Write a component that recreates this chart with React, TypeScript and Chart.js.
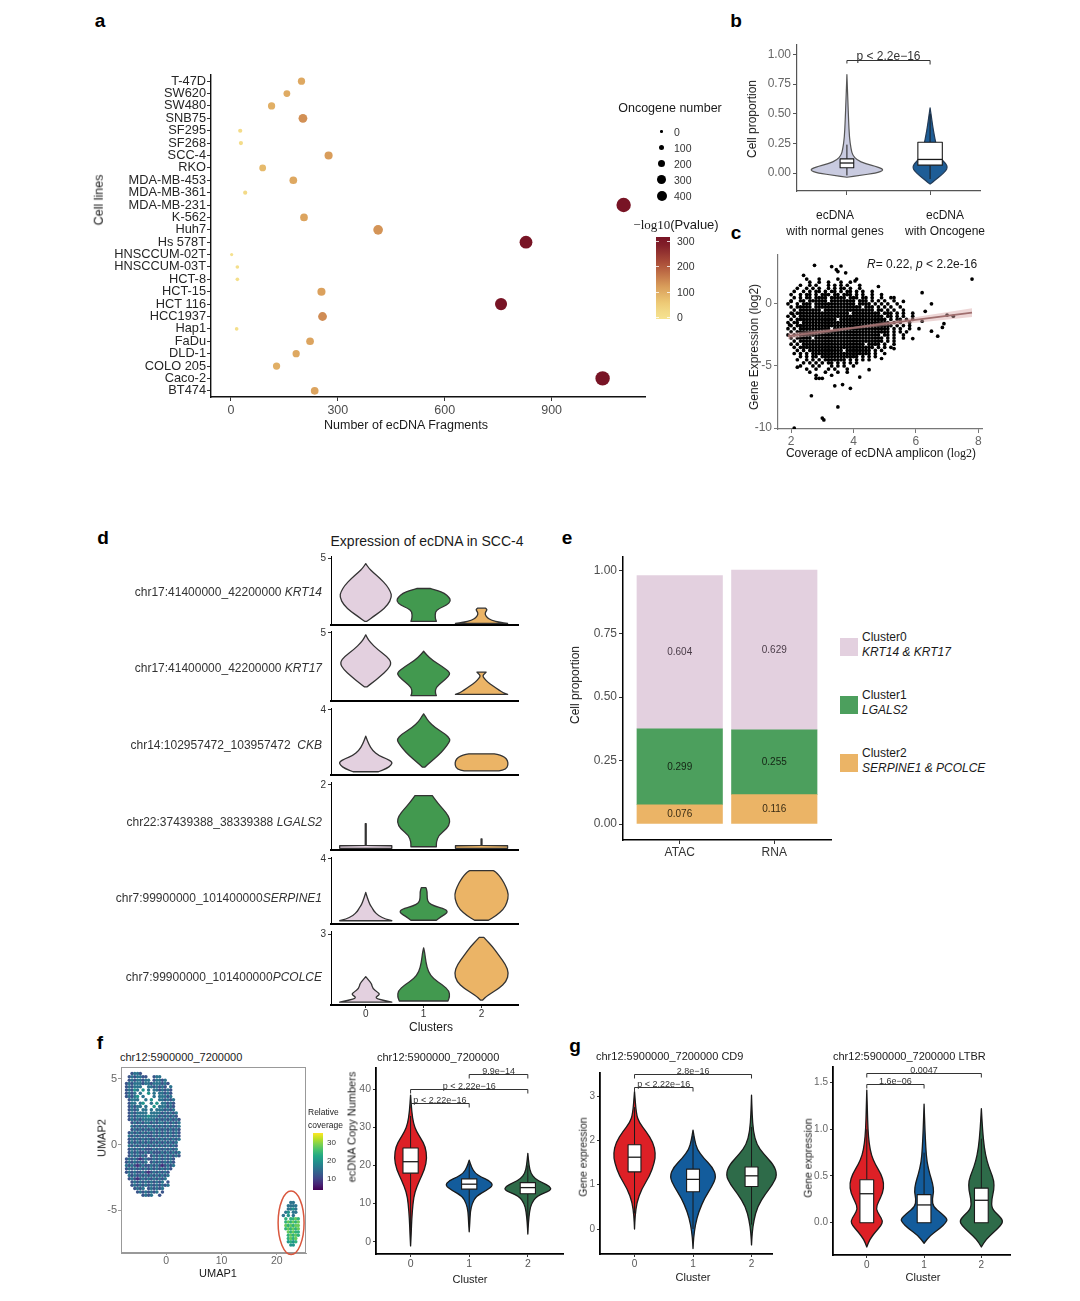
import React, { useEffect, useRef } from "react";
import { Chart, registerables } from "chart.js";

Chart.register(...registerables);

const SANS = "'Liberation Sans', Arial, Helvetica, sans-serif";
const SERIF = "'Liberation Serif', 'Times New Roman', serif";
Chart.defaults.font.family = SANS;

// ---------------- panel a ----------------
const cellLines = ["T-47D", "SW620", "SW480", "SNB75", "SF295", "SF268", "SCC-4", "RKO", "MDA-MB-453", "MDA-MB-361", "MDA-MB-231", "K-562", "Huh7", "Hs 578T", "HNSCCUM-02T", "HNSCCUM-03T", "HCT-8", "HCT-15", "HCT 116", "HCC1937", "Hap1", "FaDu", "DLD-1", "COLO 205", "Caco-2", "BT474"];
const ecdnaFragments = [198, 157, 114, 202, 26, 28, 274, 89, 175, 40, 1102, 205, 413, 828, 2, 18, 18, 254, 758, 257, 16, 222, 183, 128, 1043, 235];
const oncogeneNumber = [130, 110, 130, 205, 23, 23, 170, 110, 150, 23, 600, 150, 254, 470, 0, 10, 10, 170, 415, 205, 10, 150, 130, 130, 600, 150];
const negLog10P = [105, 100, 95, 135, 15, 15, 120, 80, 105, 20, 300, 110, 130, 300, 5, 10, 10, 115, 300, 140, 10, 110, 105, 95, 300, 110];
const fragmentTicks = [0, 300, 600, 900];
const oncoLegendValues = [0, 100, 200, 300, 400];
const pLegendValues = [300, 200, 100, 0];
const pColorStops: [number, string][] = [[0, "#f6e390"], [60, "#ecc874"], [120, "#d99d5b"], [200, "#b3583d"], [300, "#781425"]];

// ---------------- panel b ----------------
const bCategories = [["ecDNA", "with normal genes"], ["ecDNA", "with Oncogene"]];
const bPropTicks = [0, 0.25, 0.5, 0.75, 1];
const bNormalProfile: [number, number][] = [[-0.035, 0], [-0.02, 0.15], [0, 0.35], [0.025, 0.45], [0.05, 0.38], [0.08, 0.22], [0.11, 0.12], [0.15, 0.07], [0.2, 0.05], [0.3, 0.03], [0.45, 0.02], [0.6, 0.012], [0.83, 0]];
const bOncoProfile: [number, number][] = [[-0.093, 0], [-0.06, 0.06], [-0.02, 0.13], [0.02, 0.19], [0.05, 0.21], [0.08, 0.19], [0.12, 0.13], [0.18, 0.095], [0.25, 0.07], [0.32, 0.05], [0.4, 0.03], [0.48, 0.015], [0.55, 0]];
const bNormalBox = [-0.02, 0.045, 0.085, 0.12, 0.24];
const bOncoBox = [-0.05, 0.067, 0.115, 0.26, 0.5];

// ---------------- panel c ----------------
const cCoverageTicks = [2, 4, 6, 8];
const cExprTicks = [-10, -5, 0];
// digitised dense core: column i -> x = 1.9 + 0.1*i, row r -> y = 2.0 - 0.25*r
const cDenseRows = [
  "......#...#.....#.....#",
  ".......#..#..#...#..#",
  "....#..#.#...#.#.#.#...#",
  "...#..#.#.#..#.#.##.#..#",
  "..#..#.#.##.#.##.#.##.#.#..#",
  ".#..#.##.#.###.##.###.#.#..#..#",
  "..#.#.##.####.#####.###.##.#..#...#",
  ".#..##.######.########.###.#.#.#..#",
  "#..#.###.#############.####.#.#.#..#",
  ".#.#####.###############.###.#.#.#..#",
  "..#.#######.################.##.#.#..#",
  ".#.#################.#########.###.#.#..#",
  "#.#.###########################.##.#.#..#",
  ".#.#############.###############.#.##.#.#",
  "#.##.############################.#.#..#",
  ".#.###############################.#.#.#",
  "#.#.##########.##################.#.#..#",
  ".#.##############################.#.#.#",
  "#.#.##########################.##.#..#",
  ".#.#####.######################.#.#..#",
  "..#.###########################.#.#",
  ".#.#.####################.####.#..#",
  "..#.########################.#.#.#",
  "...#.#.###########.########.#.#",
  "..#.#.#.###################.#..#",
  "....#.#.##.############.#.#.#",
  "...#..#.#.#.#######.#.#.#.#",
  ".....#.#.#.#.##.#.#.#.#",
  "....#...#.#...#.#.#..#",
  "......#..#...#.#...#",
  ".......#....#...#..#",
  ".........#....#",
  "...........#",
];
const cOutliers: [number, number][] = [[7.8, 2.0], [2.75, 3.1], [3.3, 3.0], [3.6, 3.05], [3.45, 2.75], [3.5, 2.6], [3.75, 2.5], [2.4, 2.3], [4.05, 1.85], [4.8, 1.4], [5.2, 0.5], [5.6, 0.2], [6.2, 0.9], [6.5, 0.0], [6.9, -1.6], [6.85, -1.9], [6.5, -2.2], [6.7, -2.6], [7.2, -1.0], [7.0, -0.9], [6.2, -1.4], [5.9, -2.8], [6.1, -2.0], [6.3, -0.6], [2.65, -7.4], [3.4, -6.6], [3.65, -6.5], [3.9, -6.8], [3.0, -9.2], [3.05, -9.35], [3.5, -8.3], [2.8, -6.0], [2.9, -6.0], [2.1, -10.0], [4.2, -5.9], [4.5, -5.3], [4.9, -4.4], [5.3, -3.6], [2.0, 0.2], [2.05, -0.8], [1.95, -1.7], [2.2, -5.1]];
const cFitLine: [number, number][] = [[1.9, -2.6], [7.8, -0.7]];
const cBandUpper: [number, number][] = [[1.9, -2.35], [4.0, -1.85], [7.8, -0.35]];
const cBandLower: [number, number][] = [[1.9, -2.85], [4.0, -2.05], [7.8, -1.05]];

// ---------------- panel d ----------------
const dRegions = ["chr17:41400000_42200000 ", "chr17:41400000_42200000 ", "chr14:102957472_103957472  ", "chr22:37439388_38339388 ", "chr7:99900000_101400000", "chr7:99900000_101400000"];
const dGenes = ["KRT14", "KRT17", "CKB", "LGALS2", "SERPINE1", "PCOLCE"];
const dTopTick = [5, 5, 4, 2, 4, 3];
const dYMax = [5.2, 5.14, 4.11, 2.09, 4.11, 3.13];
const dClusterTicks = [0, 1, 2];
const dKRT14: [number, number][][] = [
  [[0.28, 0.02], [0.6, 0.12], [1.0, 0.25], [1.5, 0.38], [2.1, 0.45], [2.5, 0.43], [3.0, 0.36], [3.5, 0.25], [4.0, 0.12], [4.3, 0.05], [4.63, 0]],
  [[0.28, 0.22], [0.5, 0.2], [1.0, 0.2], [1.25, 0.27], [1.5, 0.4], [1.8, 0.47], [2.1, 0.44], [2.4, 0.36], [2.6, 0.24], [2.75, 0.12]],
  [[0.12, 0.45], [0.2, 0.32], [0.35, 0.17], [0.55, 0.1], [0.8, 0.06], [1.0, 0.07], [1.15, 0.1], [1.27, 0.07]],
];
const dKRT17: [number, number][][] = [
  [[1.03, 0.02], [1.3, 0.1], [1.8, 0.25], [2.3, 0.38], [2.8, 0.45], [3.3, 0.36], [3.8, 0.2], [4.3, 0.08], [4.6, 0.03], [4.86, 0]],
  [[0.4, 0.22], [0.6, 0.2], [1.0, 0.21], [1.4, 0.32], [1.8, 0.43], [2.1, 0.46], [2.5, 0.33], [3.0, 0.15], [3.4, 0.05], [3.65, 0]],
  [[0.48, 0.45], [0.6, 0.38], [0.8, 0.3], [1.1, 0.2], [1.4, 0.1], [1.7, 0.04], [1.85, 0.02], [2.0, 0.05], [2.12, 0.08]],
];
const dCKB: [number, number][][] = [
  [[0.2, 0.22], [0.4, 0.36], [0.6, 0.44], [0.8, 0.46], [1.0, 0.36], [1.2, 0.22], [1.5, 0.12], [1.9, 0.05], [2.2, 0.02], [2.38, 0]],
  [[0.48, 0.02], [0.8, 0.12], [1.2, 0.25], [1.6, 0.36], [2.0, 0.44], [2.2, 0.46], [2.5, 0.38], [2.9, 0.2], [3.3, 0.08], [3.6, 0.03], [3.75, 0]],
  [[0.25, 0.3], [0.35, 0.42], [0.6, 0.46], [0.9, 0.45], [1.1, 0.4], [1.22, 0.32], [1.3, 0.22]],
];
const dLGALS2: [number, number][][] = [
  [[0.05, 0.45], [0.13, 0.45], [0.14, 0.008], [0.81, 0.008]],
  [[0.1, 0.22], [0.25, 0.22], [0.45, 0.26], [0.65, 0.4], [0.85, 0.46], [1.05, 0.43], [1.25, 0.34], [1.45, 0.24], [1.6, 0.18], [1.67, 0.15]],
  [[0.05, 0.45], [0.13, 0.45], [0.14, 0.008], [0.34, 0.008]],
];
const dSERPINE1: [number, number][][] = [
  [[0.2, 0.45], [0.3, 0.35], [0.5, 0.22], [0.8, 0.14], [1.0, 0.11], [1.2, 0.07], [1.5, 0.04], [1.7, 0.02], [1.94, 0]],
  [[0.23, 0.22], [0.45, 0.3], [0.7, 0.42], [0.9, 0.38], [1.1, 0.18], [1.3, 0.08], [1.6, 0.06], [2.0, 0.06], [2.23, 0.04]],
  [[0.23, 0.12], [0.5, 0.25], [0.9, 0.38], [1.3, 0.44], [1.8, 0.47], [2.3, 0.42], [2.7, 0.36], [3.0, 0.3], [3.2, 0.24], [3.28, 0.2]],
];
const dPCOLCE: [number, number][][] = [
  [[0.12, 0.45], [0.2, 0.3], [0.3, 0.15], [0.45, 0.25], [0.55, 0.2], [0.7, 0.12], [0.9, 0.1], [1.05, 0.05], [1.2, 0]],
  [[0.17, 0.42], [0.35, 0.45], [0.6, 0.44], [0.85, 0.33], [1.1, 0.17], [1.4, 0.08], [1.8, 0.04], [2.2, 0.02], [2.42, 0]],
  [[0.21, 0.02], [0.4, 0.1], [0.7, 0.3], [1.0, 0.43], [1.35, 0.47], [1.7, 0.42], [2.1, 0.3], [2.5, 0.18], [2.75, 0.08], [2.86, 0.04]],
];
const dProfiles = [dKRT14, dKRT17, dCKB, dLGALS2, dSERPINE1, dPCOLCE];

// ---------------- panel e ----------------
const eAssays = ["ATAC", "RNA"];
const eCluster0 = [0.604, 0.629];
const eCluster1 = [0.299, 0.255];
const eCluster2 = [0.076, 0.116];
const ePropTicks = [0, 0.25, 0.5, 0.75, 1];
const eLegendTitles = ["Cluster0", "Cluster1", "Cluster2"];
const eLegendGenes = ["KRT14 & KRT17", "LGALS2", "SERPINE1 & PCOLCE"];

// ---------------- panel f ----------------
// digitised UMAP, digit d -> relative coverage 4*d
const fUmapMain = [
  "  3443              ",
  " 3434433  344       ",
  " 34344344 34434     ",
  "3434443443444343    ",
  "343444  4434343 4   ",
  "34354 5 4 4434343   ",
  "3434 4  5 4 44343   ",
  "34345 4   4 44434   ",
  " 3444  4 5  443434  ",
  " 344 45  4 5 44343  ",
  " 34344 4  5 444343  ",
  " 3434 44 4 4443434  ",
  " 3434444 4444343434 ",
  " 343444454443434343 ",
  " 3434344444343434343",
  "  343434434344343434",
  "  434343443434343434",
  "  343434344343434343",
  " 3434343434343434343",
  " 4343434334343434343",
  " 3434343433434343434",
  " 343434343434343434 ",
  " 434343434343434343 ",
  " 343434333434343434 ",
  " 3434334343334343434",
  " 3434343 34343434343",
  "343432343343434343  ",
  "34343434 343434343  ",
  "434323433434323434  ",
  "34343434343434343   ",
  "3434334323434343    ",
  " 434343434343434    ",
  " 34323434343434     ",
  "  343434343434 3    ",
  "  34343434343434    ",
  "   3434 343434      ",
  "    34343434 3      ",
  "      3434  3       ",
];
const fUmapSmall = [
  "   44   ",
  "  4444  ",
  "  4454  ",
  " 45 44  ",
  "4 5 4   ",
  " 6 6676 ",
  " 676767 ",
  " 767677 ",
  " 676767 ",
  "  76766 ",
  "  67676 ",
  "  6767  ",
  "  5656  ",
  "   55   ",
];
const fUmapXTicks = [0, 10, 20];
const fUmapYTicks = [-5, 0, 5];
const fCoverageLegend = [30, 20, 10];
const fCopyTicks = [0, 10, 20, 30, 40];
const fCopyProfiles: [number, number][][] = [
  [[-1.1, 0], [2, 0.01], [6, 0.02], [10, 0.04], [13, 0.07], [16, 0.15], [19, 0.24], [22, 0.28], [25, 0.25], [27, 0.18], [29, 0.1], [31, 0.05], [34, 0.02], [38.5, 0]],
  [[2.6, 0], [5, 0.01], [8, 0.02], [10, 0.05], [12, 0.12], [13.5, 0.3], [14.8, 0.41], [16, 0.35], [17, 0.2], [18, 0.1], [19.5, 0.04], [21.4, 0]],
  [[2, 0], [5, 0.01], [8, 0.03], [10, 0.06], [12, 0.15], [13.5, 0.4], [14.5, 0.38], [15.5, 0.25], [16.5, 0.12], [18, 0.05], [20, 0.02], [23.2, 0]],
];
const fCopyBoxes = [[3, 18, 21, 24.6, 33], [5, 13.8, 15.1, 16.5, 20.5], [4.5, 12.6, 14.2, 15.5, 20]];
const fCopyTests = [
  { a: 0, b: 1, y: 36.5, p: "p < 2.22e\u221216" },
  { a: 0, b: 2, y: 40, p: "p < 2.22e\u221216" },
  { a: 1, b: 2, y: 43.9, p: "9.9e\u221214" },
];

// ---------------- panel g ----------------
const gCD9Ticks = [0, 1, 2, 3];
const gCD9Profiles: [number, number][][] = [
  [[0, 0], [0.3, 0.01], [0.6, 0.04], [0.9, 0.12], [1.2, 0.26], [1.5, 0.34], [1.7, 0.36], [1.95, 0.32], [2.2, 0.2], [2.4, 0.08], [2.6, 0.03], [3.1, 0]],
  [[-0.44, 0], [-0.2, 0.01], [0.1, 0.04], [0.4, 0.1], [0.7, 0.2], [0.95, 0.32], [1.18, 0.4], [1.4, 0.33], [1.6, 0.18], [1.8, 0.07], [2.0, 0.03], [2.23, 0]],
  [[-0.36, 0], [-0.1, 0.01], [0.2, 0.04], [0.5, 0.1], [0.8, 0.24], [1.0, 0.36], [1.22, 0.44], [1.45, 0.38], [1.7, 0.2], [1.9, 0.09], [2.2, 0.03], [2.6, 0.01], [3.02, 0]],
];
const gCD9Boxes = [[0.35, 1.29, 1.62, 1.9, 2.75], [0.0, 0.84, 1.12, 1.35, 2.1], [0.1, 0.96, 1.2, 1.4, 2.3]];
const gCD9Tests = [
  { a: 0, b: 1, y: 3.2, p: "p < 2.22e\u221216" },
  { a: 0, b: 2, y: 3.49, p: "2.8e\u221216" },
];
const gLTBRTicks = [0, 0.5, 1, 1.5];
const gLTBRProfiles: [number, number][][] = [
  [[-0.26, 0], [-0.18, 0.05], [-0.1, 0.15], [-0.03, 0.25], [0.02, 0.28], [0.08, 0.22], [0.15, 0.16], [0.22, 0.2], [0.32, 0.28], [0.42, 0.3], [0.52, 0.25], [0.62, 0.15], [0.72, 0.08], [0.85, 0.04], [1.0, 0.02], [1.2, 0.01], [1.42, 0]],
  [[-0.22, 0], [-0.14, 0.1], [-0.06, 0.28], [0.0, 0.38], [0.04, 0.41], [0.1, 0.3], [0.17, 0.16], [0.25, 0.14], [0.33, 0.17], [0.42, 0.15], [0.52, 0.1], [0.65, 0.05], [0.8, 0.03], [1.0, 0.015], [1.27, 0]],
  [[-0.26, 0], [-0.18, 0.08], [-0.1, 0.22], [-0.03, 0.34], [0.02, 0.38], [0.08, 0.3], [0.15, 0.18], [0.25, 0.18], [0.35, 0.22], [0.45, 0.22], [0.55, 0.16], [0.65, 0.1], [0.8, 0.05], [1.0, 0.02], [1.22, 0]],
];
const gLTBRBoxes = [[0, 0, 0.31, 0.46, 1.0], [0, 0, 0.19, 0.3, 0.75], [0, 0, 0.24, 0.37, 0.9]];
const gLTBRTests = [
  { a: 0, b: 1, y: 1.48, p: "1.6e\u221206" },
  { a: 0, b: 2, y: 1.6, p: "0.0047" },
];

// ---------------- helpers ----------------
const CLUSTER_RGB = ["#dd2026", "#135c9c", "#2e6b49"];
const D_COLORS = ["#e3d0df", "#42994f", "#ebb466"];
const VIRIDIS = ["#440154", "#482475", "#414487", "#355f8d", "#2a788e", "#21918c", "#22a884", "#44bf70", "#7ad151", "#bddf26", "#fde725"];

function hexRgb(h: string) {
  const n = parseInt(h.slice(1), 16);
  return [(n >> 16) & 255, (n >> 8) & 255, n & 255];
}
function lerpStops(stops: [number, string][], v: number) {
  if (v <= stops[0][0]) return stops[0][1];
  for (let i = 1; i < stops.length; i++) {
    if (v <= stops[i][0]) {
      const t = (v - stops[i - 1][0]) / (stops[i][0] - stops[i - 1][0]);
      const a = hexRgb(stops[i - 1][1]);
      const b = hexRgb(stops[i][1]);
      return `rgb(${Math.round(a[0] + (b[0] - a[0]) * t)},${Math.round(a[1] + (b[1] - a[1]) * t)},${Math.round(a[2] + (b[2] - a[2]) * t)})`;
    }
  }
  return stops[stops.length - 1][1];
}
const pColor = (v: number) => lerpStops(pColorStops, v);
const oncoRadius = (n: number) => Math.sqrt(2.5 + 0.082 * n);
const viridisStops: [number, string][] = VIRIDIS.map((c, i) => [3.9 + (31.4 * i) / 10, c]);
const viridis = (v: number) => lerpStops(viridisStops, v);

function geo(L: number, T: number, W: number, H: number, aL: number, aT: number, aR: number, aB: number) {
  return { L, T, W, H, yW: aL - L, xH: T + H - aB, pad: { left: 0, top: aT - T, right: L + W - aR, bottom: 0 } };
}

function mkAxis(o: any) {
  const tickLen = o.tickLen ?? 4;
  const a: any = {
    type: o.type ?? "linear",
    position: o.position,
    offset: o.offset ?? false,
    afterFit: (s: any) => {
      if (o.position === "left") s.width = o.size;
      else s.height = o.size;
    },
    grid: { display: true, offset: false, drawOnChartArea: false, drawTicks: tickLen > 0, tickLength: tickLen, color: o.tickMark ?? "#333", lineWidth: 1 },
    border: { display: o.borderW !== 0, color: o.borderColor ?? "#111", width: o.borderW ?? 1.2 },
    ticks: { display: o.showTicks ?? true, font: { size: o.tickSize ?? 12, lineHeight: 1.2 }, color: o.tickColor ?? "#4d4d4d", padding: o.tickPad ?? 2, autoSkip: false, maxRotation: 0, minRotation: 0 },
    title: { display: false },
  };
  if (o.min !== undefined) a.min = o.min;
  if (o.max !== undefined) a.max = o.max;
  if (o.labels) a.labels = o.labels;
  if (o.ticksAt) {
    a.afterBuildTicks = (s: any) => {
      s.ticks = o.ticksAt.map((v: number) => ({ value: v }));
    };
    a.ticks.callback = o.fmt ?? ((v: any) => String(v));
  }
  return a;
}

function baseOptions(g: any, scales: any) {
  return {
    responsive: false,
    maintainAspectRatio: false,
    animation: false,
    devicePixelRatio: 1,
    events: [],
    layout: { padding: g.pad, autoPadding: false },
    plugins: { legend: { display: false }, tooltip: { enabled: false }, title: { display: false } },
    scales,
  };
}

function smoothRing(ctx: CanvasRenderingContext2D, pts: number[][]) {
  const n = pts.length;
  const mid = (a: number[], b: number[]) => [(a[0] + b[0]) / 2, (a[1] + b[1]) / 2];
  const s = mid(pts[n - 1], pts[0]);
  ctx.moveTo(s[0], s[1]);
  for (let i = 0; i < n; i++) {
    const p = pts[i];
    const m = mid(p, pts[(i + 1) % n]);
    ctx.quadraticCurveTo(p[0], p[1], m[0], m[1]);
  }
  ctx.closePath();
}

function drawViolin(ctx: CanvasRenderingContext2D, X: (v: number) => number, Y: (v: number) => number, v: any) {
  const left = v.prof.map(([y, w]: number[]) => [X(v.x - w), Y(y)]);
  const right = v.prof.map(([y, w]: number[]) => [X(v.x + w), Y(y)]).reverse();
  ctx.beginPath();
  if (v.sharp) {
    const ring = [...left, ...right];
    ring.forEach((p: number[], i: number) => (i ? ctx.lineTo(p[0], p[1]) : ctx.moveTo(p[0], p[1])));
    ctx.closePath();
  } else {
    smoothRing(ctx, [left[0], ...left, left[left.length - 1], right[0], ...right, right[right.length - 1]]);
  }
  ctx.fillStyle = v.fill;
  ctx.fill();
  ctx.lineWidth = v.lw ?? 1.3;
  ctx.strokeStyle = v.stroke ?? "#222";
  ctx.lineJoin = "round";
  ctx.stroke();
  if (v.box) {
    const [lo, q1, med, q3, hi] = v.box;
    const cx = X(v.x);
    ctx.strokeStyle = "#1a1a1a";
    ctx.lineWidth = 1;
    ctx.beginPath();
    ctx.moveTo(cx, Y(lo));
    ctx.lineTo(cx, Y(q1));
    ctx.moveTo(cx, Y(q3));
    ctx.lineTo(cx, Y(hi));
    ctx.stroke();
    const x0 = X(v.x - v.boxW);
    const x1 = X(v.x + v.boxW);
    ctx.fillStyle = "#fff";
    ctx.fillRect(x0, Y(q3), x1 - x0, Y(q1) - Y(q3));
    ctx.lineWidth = 1.1;
    ctx.strokeRect(x0, Y(q3), x1 - x0, Y(q1) - Y(q3));
    ctx.lineWidth = 1.3;
    ctx.beginPath();
    ctx.moveTo(x0, Y(med));
    ctx.lineTo(x1, Y(med));
    ctx.stroke();
  }
}

function makeExtras(spec: any) {
  return {
    id: "extras",
    afterDatasetsDraw(chart: any) {
      const ctx: CanvasRenderingContext2D = chart.ctx;
      const xs = chart.scales.x;
      const ys = chart.scales.y;
      const X = (v: number) => xs.getPixelForValue(v);
      const Y = (v: number) => ys.getPixelForValue(v);
      ctx.save();
      if (spec.frame) {
        const a = chart.chartArea;
        ctx.strokeStyle = spec.frame;
        ctx.lineWidth = 1;
        ctx.strokeRect(a.left + 0.5, a.top + 0.5, a.right - a.left - 1, a.bottom - a.top - 1);
      }
      (spec.violins || []).forEach((v: any) => drawViolin(ctx, X, Y, v));
      (spec.brackets || []).forEach((b: any) => {
        const y = Math.round(Y(b.y)) + 0.5;
        const x1 = X(b.a);
        const x2 = X(b.b);
        ctx.strokeStyle = "#333";
        ctx.lineWidth = 1;
        ctx.beginPath();
        ctx.moveTo(x1, y + (b.dl ?? 4));
        ctx.lineTo(x1, y);
        ctx.lineTo(x2, y);
        ctx.lineTo(x2, y + (b.dr ?? 4));
        ctx.stroke();
        ctx.fillStyle = "#333";
        ctx.font = `${b.size ?? 9}px ${SANS}`;
        ctx.textAlign = "center";
        ctx.textBaseline = "alphabetic";
        ctx.fillText(b.p, (x1 + x2) / 2, y - 1);
      });
      if (spec.ellipse) {
        const e = spec.ellipse;
        ctx.strokeStyle = e.color;
        ctx.lineWidth = 1.5;
        ctx.beginPath();
        ctx.ellipse(X(e.x), Y(e.y), Math.abs(X(e.x + e.rx) - X(e.x)), Math.abs(Y(e.y + e.ry) - Y(e.y)), 0, 0, Math.PI * 2);
        ctx.stroke();
      }
      if (spec.barLabels) {
        ctx.font = `10px ${SANS}`;
        ctx.textAlign = "center";
        ctx.textBaseline = "middle";
        spec.barLabels.forEach((vals: number[], di: number) => {
          const meta = chart.getDatasetMeta(di);
          meta.data.forEach((el: any, j: number) => {
            ctx.fillStyle = spec.barLabelColors[di];
            ctx.fillText(vals[j].toFixed(3), el.x, (el.y + el.base) / 2);
          });
        });
      }
      ctx.restore();
    },
  };
}

function ChartCanvas({ g, build }: { g: any; build: () => any }) {
  const ref = useRef<HTMLCanvasElement | null>(null);
  useEffect(() => {
    if (!ref.current) return;
    const ch = new Chart(ref.current, build());
    return () => ch.destroy();
  }, []);
  return <canvas ref={ref} width={g.W} height={g.H} style={{ position: "absolute", left: g.L, top: g.T, width: g.W, height: g.H }} />;
}

function Label({ x, y, size = 12, color = "#1a1a1a", align = "left", bold = false, italic = false, rotate = false, family = SANS, children }: any) {
  const tx = align === "center" ? "-50%" : align === "right" ? "-100%" : "0";
  return (
    <div
      style={{
        position: "absolute",
        left: x,
        top: y,
        transform: rotate ? "translate(-50%, -50%) rotate(-90deg)" : `translate(${tx}, -50%)`,
        fontSize: size,
        color,
        fontWeight: bold ? 700 : 400,
        fontStyle: italic ? "italic" : "normal",
        fontFamily: family,
        whiteSpace: "pre",
        lineHeight: 1,
      }}
    >
      {children}
    </div>
  );
}

// ---------------- chart builders ----------------
const gA = geo(90, 60, 560, 385, 211, 75, 645, 397);
function buildA() {
  return {
    type: "scatter",
    data: {
      datasets: [
        {
          data: cellLines.map((c, i) => ({ x: ecdnaFragments[i], y: c })),
          pointRadius: oncogeneNumber.map(oncoRadius),
          pointBackgroundColor: negLog10P.map(pColor),
          pointBorderWidth: 0,
          pointHoverRadius: 0,
        },
      ],
    },
    options: baseOptions(gA, {
      x: mkAxis({ position: "bottom", size: gA.xH, min: -56, max: 1162, ticksAt: fragmentTicks, tickPad: 2, borderW: 1.4, tickSize: 12.5 }),
      y: mkAxis({ type: "category", position: "left", size: gA.yW, labels: cellLines, offset: true, tickPad: 1, tickColor: "#262626", borderW: 1.4, tickSize: 12.8 }),
    }),
  };
}

const gB = geo(735, 35, 345, 205, 797, 45, 980, 191);
function buildB() {
  return {
    type: "scatter",
    data: { datasets: [{ data: [] }] },
    options: baseOptions(gB, {
      x: mkAxis({ position: "bottom", size: gB.xH, min: 0.4, max: 2.6, ticksAt: [1, 2], showTicks: false, borderColor: "#555", tickMark: "#555" }),
      y: mkAxis({ position: "left", size: gB.yW, min: -0.151, max: 1.08, ticksAt: bPropTicks, fmt: (v: number) => v.toFixed(2), borderColor: "#555", tickMark: "#555", tickColor: "#666" }),
    }),
    plugins: [
      makeExtras({
        violins: [
          { x: 1, prof: bNormalProfile, fill: "#c9cbe0", stroke: "#555", lw: 1.2, box: bNormalBox, boxW: 0.082 },
          { x: 2, prof: bOncoProfile, fill: "#1e5d96", stroke: "#233a55", lw: 1.2, box: bOncoBox, boxW: 0.147 },
        ],
        brackets: [{ a: 1, b: 2, y: 0.955, p: "p < 2.2e\u221216", size: 12, dl: 3, dr: 4 }],
      }),
    ],
  };
}

const gC = geo(735, 245, 345, 225, 778, 253, 982, 429);
function buildC() {
  const pts: { x: number; y: number }[] = [];
  cDenseRows.forEach((row, r) => {
    for (let i = 0; i < row.length; i++) if (row[i] === "#") pts.push({ x: 1.9 + 0.1 * i, y: 2.0 - 0.25 * r });
  });
  cOutliers.forEach(([x, y]) => pts.push({ x, y }));
  const xy = (a: [number, number][]) => a.map(([x, y]) => ({ x, y }));
  return {
    type: "scatter",
    data: {
      datasets: [
        { type: "line", data: xy(cFitLine), borderColor: "#a06f6f", borderWidth: 1.8, pointRadius: 0, fill: false },
        { type: "line", data: xy(cBandUpper), borderWidth: 0, borderColor: "rgba(0,0,0,0)", pointRadius: 0, fill: "+1", backgroundColor: "rgba(215,165,165,0.45)" },
        { type: "line", data: xy(cBandLower), borderWidth: 0, borderColor: "rgba(0,0,0,0)", pointRadius: 0, fill: false },
        { type: "scatter", data: pts, pointRadius: 1.85, pointBackgroundColor: "#000", pointBorderWidth: 0, pointHoverRadius: 0 },
      ],
    },
    options: baseOptions(gC, {
      x: mkAxis({ position: "bottom", size: gC.xH, min: 1.58, max: 8.12, ticksAt: cCoverageTicks, tickPad: 1, borderColor: "#777", tickMark: "#777", tickColor: "#666" }),
      y: mkAxis({ position: "left", size: gC.yW, min: -10.08, max: 4.0, ticksAt: cExprTicks, borderColor: "#777", tickMark: "#777", tickColor: "#666" }),
    }),
    plugins: [makeExtras({})],
  };
}

const dAreaTop = [556, 631, 708, 782, 857, 931];
const dAreaBot = [630, 706, 780, 855, 929, 1005];
const gD = dAreaTop.map((t, r) => geo(300, t - 8, 225, dAreaBot[r] - t + 8 + (r === 5 ? 40 : 3), 331, t, 518, dAreaBot[r]));
function buildD(r: number) {
  const last = r === 5;
  const g = gD[r];
  return {
    type: "scatter",
    data: { datasets: [{ data: [] }] },
    options: baseOptions(g, {
      x: mkAxis({ position: "bottom", size: g.xH, min: -0.6, max: 2.63, ticksAt: last ? dClusterTicks : [], showTicks: last, tickLen: last ? 3 : 0, borderW: 2, tickSize: 10, tickPad: 0, tickColor: "#333", borderColor: "#000" }),
      y: mkAxis({ position: "left", size: g.yW, min: 0, max: dYMax[r], ticksAt: [dTopTick[r]], tickLen: 3, tickSize: 10, tickPad: 2, borderW: 1, tickColor: "#333", borderColor: "#000" }),
    }),
    plugins: [
      makeExtras({
        violins: dProfiles[r].map((prof, k) => ({ x: k, prof, fill: D_COLORS[k], stroke: "#333", lw: 1.3, sharp: r === 3 && k !== 1 })),
      }),
    ],
  };
}

const gE = geo(565, 545, 275, 320, 623, 557, 831, 840);
function buildE() {
  const mk = (vals: number[], color: string) => ({ data: vals.map((y, i) => ({ x: i, y })), backgroundColor: color, borderWidth: 0, barThickness: 85.5 });
  const x = mkAxis({ position: "bottom", size: gE.xH, min: -0.6, max: 1.6, ticksAt: [0, 1], fmt: (v: number) => eAssays[v], tickPad: 1, tickColor: "#333", borderW: 1.5, borderColor: "#000" });
  x.stacked = true;
  const y = mkAxis({ position: "left", size: gE.yW, min: -0.063, max: 1.052, ticksAt: ePropTicks, fmt: (v: number) => v.toFixed(2), borderW: 1.5, borderColor: "#000" });
  y.stacked = true;
  return {
    type: "bar",
    data: { datasets: [mk(eCluster2, D_COLORS[2]), mk(eCluster1, "#4c9f5d"), mk(eCluster0, D_COLORS[0])] },
    options: baseOptions(gE, { x, y }),
    plugins: [makeExtras({ barLabels: [eCluster2, eCluster1, eCluster0], barLabelColors: ["#3a2c14", "#142414", "#4a3c48"] })],
  };
}

const gFU = geo(90, 1050, 225, 240, 121, 1067, 306, 1253);
function buildFU() {
  const pts: { x: number; y: number; v: number }[] = [];
  fUmapMain.forEach((row, r) => {
    for (let i = 0; i < row.length; i++) if (row[i] >= "0" && row[i] <= "9") pts.push({ x: -7.2 + 0.5 * i, y: 5.4 - 0.25 * r, v: 4 * Number(row[i]) });
  });
  fUmapSmall.forEach((row, r) => {
    for (let i = 0; i < row.length; i++) if (row[i] >= "0" && row[i] <= "9") pts.push({ x: 21.2 + 0.45 * i, y: -4.4 - 0.25 * r, v: 4 * Number(row[i]) });
  });
  return {
    type: "scatter",
    data: { datasets: [{ data: pts.map((p) => ({ x: p.x, y: p.y })), pointRadius: 1.75, pointBorderWidth: 0, pointBackgroundColor: pts.map((p) => viridis(p.v)), pointHoverRadius: 0 }] },
    options: baseOptions(gFU, {
      x: mkAxis({ position: "bottom", size: gFU.xH, min: -8.2, max: 25.3, ticksAt: fUmapXTicks, tickLen: 2, tickSize: 10.5, tickPad: 0, borderColor: "#999", borderW: 1, tickMark: "#999", tickColor: "#666" }),
      y: mkAxis({ position: "left", size: gFU.yW, min: -8.25, max: 5.9, ticksAt: fUmapYTicks, tickLen: 3, tickSize: 11, tickPad: 1, borderColor: "#999", borderW: 1, tickMark: "#999", tickColor: "#666" }),
    }),
    plugins: [makeExtras({ frame: "#999", ellipse: { x: 22.6, y: -5.95, rx: 2.35, ry: 2.41, color: "#d9573e" } })],
  };
}

function violinChart(g: any, yMin: number, yMax: number, yTicks: number[], profs: [number, number][][], boxes: number[][], tests: any[], boxW: number, xMax: number, tickSize: number, yFmt?: (v: number) => string) {
  return {
    type: "scatter",
    data: { datasets: [{ data: [] }] },
    options: baseOptions(g, {
      x: mkAxis({ position: "bottom", size: g.xH, min: -0.59, max: xMax, ticksAt: [0, 1, 2], tickLen: 3, tickSize, tickPad: 1, borderW: 1.8, borderColor: "#000", tickColor: "#555" }),
      y: mkAxis({ position: "left", size: g.yW, min: yMin, max: yMax, ticksAt: yTicks, fmt: yFmt, tickLen: 3, tickSize, tickPad: 2, borderW: 1.8, borderColor: "#000", tickColor: "#666" }),
    }),
    plugins: [
      makeExtras({
        violins: profs.map((prof, k) => ({ x: k, prof, fill: CLUSTER_RGB[k], stroke: "#1a1a1a", lw: 1.3, box: boxes[k], boxW })),
        brackets: tests.map((t) => ({ ...t, size: 9, dl: 4, dr: 4 })),
      }),
    ],
  };
}

const gFV = geo(340, 1050, 228, 240, 376, 1068, 563, 1254);
const buildFV = () => violinChart(gFV, -3.23, 45.6, fCopyTicks, fCopyProfiles, fCopyBoxes, fCopyTests, 0.13, 2.6, 10.5);
const gG1 = geo(565, 1050, 215, 240, 600, 1073, 772, 1254);
const buildG1 = () => violinChart(gG1, -0.564, 3.52, gCD9Ticks, gCD9Profiles, gCD9Boxes, gCD9Tests, 0.11, 2.35, 10);
const gG2 = geo(795, 1050, 225, 240, 833, 1067, 1010, 1255);
const buildG2 = () => violinChart(gG2, -0.346, 1.667, gLTBRTicks, gLTBRProfiles, gLTBRBoxes, gLTBRTests, 0.12, 2.5, 10, (v: number) => v.toFixed(1));

// ---------------- app ----------------
export default function App() {
  const pGradient = `linear-gradient(to bottom, ${Array.from({ length: 11 }, (_, k) => `${pColor(316 - k * 32.4)} ${k * 10}%`).join(", ")})`;
  const vGradient = `linear-gradient(to top, ${VIRIDIS.join(", ")})`;
  return (
    <div style={{ position: "absolute", left: 0, top: 0, width: 1080, height: 1301, background: "#fff", overflow: "hidden", fontFamily: SANS }}>
      {/* panel letters */}
      <Label x={100} y={20} size={19} bold align="center" color="#000">a</Label>
      <Label x={736} y={20} size={19} bold align="center" color="#000">b</Label>
      <Label x={736} y={232} size={19} bold align="center" color="#000">c</Label>
      <Label x={103} y={537} size={19} bold align="center" color="#000">d</Label>
      <Label x={567} y={537} size={19} bold align="center" color="#000">e</Label>
      <Label x={100} y={1042} size={19} bold align="center" color="#000">f</Label>
      <Label x={575} y={1045} size={19} bold align="center" color="#000">g</Label>

      {/* panel a */}
      <ChartCanvas g={gA} build={buildA} />
      <Label x={99} y={200} rotate size={12.5}>Cell lines</Label>
      <Label x={406} y={425} align="center" size={12.5}>Number of ecDNA Fragments</Label>
      <Label x={670} y={108} align="center" size={12.5}>Oncogene number</Label>
      {oncoLegendValues.map((n, i) => {
        const r = oncoRadius(n) * 0.85;
        return (
          <React.Fragment key={n}>
            <div style={{ position: "absolute", left: 661.7 - r, top: 131.5 + i * 16.1 - r, width: 2 * r, height: 2 * r, borderRadius: "50%", background: "#000" }} />
            <Label x={674} y={132 + i * 16.1} size={10.5} color="#333">{String(n)}</Label>
          </React.Fragment>
        );
      })}
      <Label x={676} y={224} align="center" size={13}>
        <span style={{ fontFamily: SERIF }}>{"\u2212log10"}</span>
        <span>(Pvalue)</span>
      </Label>
      <div style={{ position: "absolute", left: 656, top: 237, width: 14, height: 82, background: pGradient }} />
      {pLegendValues.map((v) => (
        <React.Fragment key={v}>
          <div style={{ position: "absolute", left: 656, top: 317 - v * 0.253, width: 3, height: 1, background: "rgba(255,255,255,0.8)" }} />
          <div style={{ position: "absolute", left: 667, top: 317 - v * 0.253, width: 3, height: 1, background: "rgba(255,255,255,0.8)" }} />
          <Label x={677} y={317 - v * 0.253} size={10.5} color="#333">{String(v)}</Label>
        </React.Fragment>
      ))}

      {/* panel b */}
      <ChartCanvas g={gB} build={buildB} />
      <Label x={752} y={119} rotate size={12}>Cell proportion</Label>
      {bCategories.map((lines, i) => (
        <React.Fragment key={i}>
          <Label x={i === 0 ? 835 : 945} y={215} align="center" size={12}>{lines[0]}</Label>
          <Label x={i === 0 ? 835 : 945} y={231} align="center" size={12}>{lines[1]}</Label>
        </React.Fragment>
      ))}

      {/* panel c */}
      <ChartCanvas g={gC} build={buildC} />
      <Label x={754} y={347} rotate size={12}>Gene Expression (log2)</Label>
      <Label x={881} y={453} align="center" size={12}>
        Coverage of ecDNA amplicon (<span style={{ fontFamily: SERIF }}>log2</span>)
      </Label>
      <Label x={867} y={264} size={12}>
        <i>R</i>= 0.22, <i>p</i> {"< 2.2e-16"}
      </Label>

      {/* panel d */}
      <Label x={427} y={541} align="center" size={14}>Expression of ecDNA in SCC-4</Label>
      {gD.map((g, r) => (
        <ChartCanvas key={r} g={g} build={() => buildD(r)} />
      ))}
      {dRegions.map((reg, r) => (
        <Label key={r} x={322} y={[591.7, 668, 745, 821.7, 898, 976.7][r]} align="right" size={12} color="#333">
          {reg}
          <i>{dGenes[r]}</i>
        </Label>
      ))}
      <Label x={431} y={1027} align="center" size={12}>Clusters</Label>

      {/* panel e */}
      <ChartCanvas g={gE} build={buildE} />
      <Label x={575} y={685} rotate size={12}>Cell proportion</Label>
      {eLegendTitles.map((t, k) => {
        const top = [638, 696, 754][k];
        const color = [D_COLORS[0], "#4c9f5d", D_COLORS[2]][k];
        return (
          <React.Fragment key={t}>
            <div style={{ position: "absolute", left: 840, top, width: 18, height: 18, background: color }} />
            <Label x={862} y={top - 1} size={12}>{t}</Label>
            <Label x={862} y={top + 14} size={12} italic>{eLegendGenes[k]}</Label>
          </React.Fragment>
        );
      })}

      {/* panel f */}
      <Label x={120} y={1057} size={11}>chr12:5900000_7200000</Label>
      <ChartCanvas g={gFU} build={buildFU} />
      <Label x={102} y={1138} rotate size={11}>UMAP2</Label>
      <Label x={218} y={1273} align="center" size={11}>UMAP1</Label>
      <Label x={308} y={1112} size={8.5} color="#222">Relative</Label>
      <Label x={308} y={1124.5} size={8.5} color="#222">coverage</Label>
      <div style={{ position: "absolute", left: 312.7, top: 1133, width: 10.6, height: 57, background: vGradient }} />
      {fCoverageLegend.map((v) => (
        <Label key={v} x={327} y={1190 - (v - 3.9) * (57 / 31.4)} size={8} color="#333">{String(v)}</Label>
      ))}
      <Label x={377} y={1057} size={11}>chr12:5900000_7200000</Label>
      <ChartCanvas g={gFV} build={buildFV} />
      <Label x={352} y={1127} rotate size={11}>ecDNA Copy Numbers</Label>
      <Label x={470} y={1279} align="center" size={11}>Cluster</Label>

      {/* panel g */}
      <Label x={596} y={1056} size={11}>chr12:5900000_7200000 CD9</Label>
      <ChartCanvas g={gG1} build={buildG1} />
      <Label x={583} y={1157} rotate size={10.5}>Gene expression</Label>
      <Label x={693} y={1276.5} align="center" size={11}>Cluster</Label>
      <Label x={833} y={1056} size={11}>chr12:5900000_7200000 LTBR</Label>
      <ChartCanvas g={gG2} build={buildG2} />
      <Label x={808} y={1158} rotate size={10.5}>Gene expression</Label>
      <Label x={923} y={1276.5} align="center" size={11}>Cluster</Label>
    </div>
  );
}
